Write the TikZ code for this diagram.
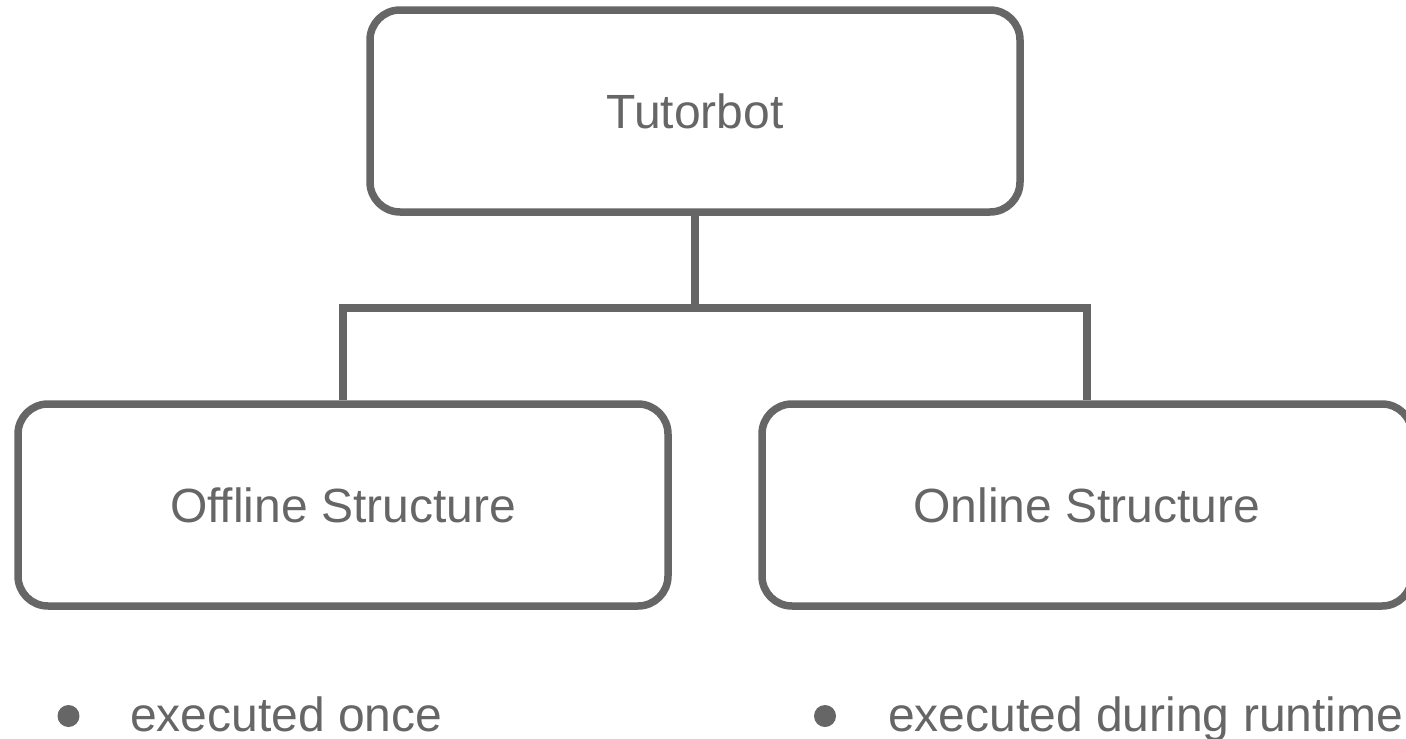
\documentclass[tikz,border=0pt]{standalone}
\usepackage{fontspec}
\setmainfont{Liberation Sans}
\definecolor{ink}{HTML}{666666}
\tikzset{
  box/.style={draw=ink, line width=7.5pt, rounded corners=30pt, minimum width=650pt, minimum height=202pt, inner sep=0pt, text=ink, font=\fontsize{48}{58}\selectfont},
  link/.style={draw=ink, line width=7.5pt},
  bullettext/.style={anchor=base west, inner sep=0pt, text=ink, font=\fontsize{48}{58}\selectfont},
  dot/.style={circle, fill=ink, minimum size=22pt, inner sep=0pt}
}
\begin{document}
\begin{tikzpicture}[x=1pt, y=-1pt]
\useasboundingbox (0,0) rectangle (1406,739);
\node[box] (tutor) at (695,111) {Tutorbot};
\node[box] (off) at (343,505) {Offline Structure};
\node[box] (on) at (1087,505) {Online Structure};
\coordinate (j) at (695,308);
\draw[link] (tutor.south) -- (j);
\draw[link] (off.north) -- (off.north |- j) -- (on.north |- j) -- (on.north);
\node[dot] (b1) at (68.5,716) {};
\node[bullettext] (t1) at (130,731) {executed once};
\node[dot] (b2) at (825,716) {};
\node[bullettext] (t2) at (888,731) {executed during runtime};
\end{tikzpicture}
\end{document}
